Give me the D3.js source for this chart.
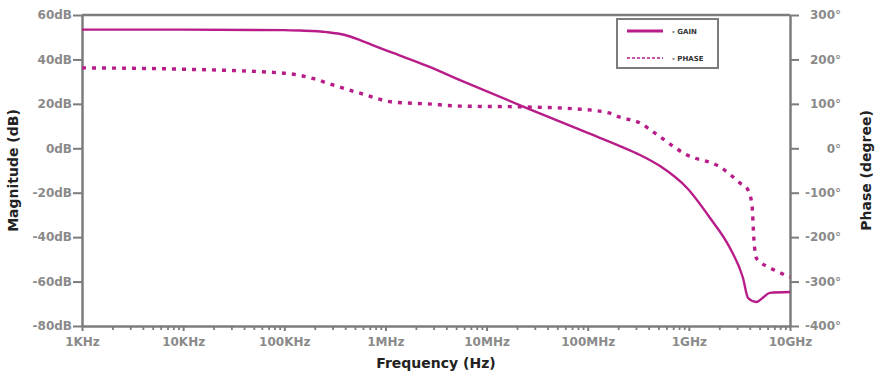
<!DOCTYPE html>
<html>
<head>
<meta charset="utf-8">
<script src="https://cdn.jsdelivr.net/npm/d3@7"></script>
<style>
  html, body { margin: 0; padding: 0; background: #fff; }
  svg { display: block; }
</style>
</head>
<body>
<svg id="chart" width="880" height="378"></svg>
<script>
// Data
const gainFreq = [1e3, 1e4, 1e5, 1.42e5, 2.64e5, 3.98e5, 5.6e5, 7.9e5, 1.19e6, 2.58e6, 5.46e6, 2.5e7, 1e8, 2.08e8, 3.29e8, 5.19e8, 9.6e8, 1.62e9, 2.55e9, 3.43e9, 3.85e9, 4.65e9, 5.35e9, 6.3e9, 1e10]
const gainDb = [53.4, 53.4, 53.2, 53.0, 52.3, 51.0, 48.7, 46.0, 42.9, 37.1, 30.7, 18.1, 6.9, 1.0, -3.0, -8.0, -17.9, -31.4, -44.9, -58.4, -67.4, -69.2, -67.4, -65.1, -64.7]
const phaseFreq = [1e3, 1e4, 1e5, 2e5, 2.64e5, 5.6e5, 1.19e6, 2.58e6, 5.46e6, 2.5e7, 8.4e7, 1.66e8, 2.08e8, 3.29e8, 4.43e8, 9.6e8, 2.03e9, 3.2e9, 3.85e9, 4.21e9, 4.4e9, 4.65e9, 5.2e9, 6.34e9, 1e10]
const phaseDeg = [181, 178, 169, 156, 147, 124, 104, 100, 95, 93, 88, 79, 70, 57, 37, -15, -42, -78, -94, -128, -206, -247, -258, -269, -290]
const freqTicks = [1e3, 1e4, 1e5, 1e6, 1e7, 1e8, 1e9, 1e10]
const freqLabels = ["1KHz", "10KHz", "100KHz", "1MHz", "10MHz", "100MHz", "1GHz", "10GHz"]
const dbTicks = [60, 40, 20, 0, -20, -40, -60, -80]
const degTicks = [300, 200, 100, 0, -100, -200, -300, -400]
const legendNames = ["- GAIN", "- PHASE"]

// Layout
const margin = { top: 15, right: 90, bottom: 52, left: 82 }
const width = 880, height = 378
const color = "#b81c88"
const axisColor = "#7c7c7c"
const font = "'DejaVu Sans', Verdana, sans-serif"

const svg = d3.select("#chart")

const x = d3.scaleLog().domain([1e3, 1e10]).range([margin.left, width - margin.right])
const yL = d3.scaleLinear().domain([-80, 60]).range([height - margin.bottom, margin.top])
const yR = d3.scaleLinear().domain([-400, 300]).range([height - margin.bottom, margin.top])

// Minor ticks on frequency axis
const minor = []
freqTicks.slice(0, -1).forEach(d => { for (let k = 2; k < 10; k++) minor.push(d * k) })

function styleAxis(g) {
  g.select(".domain").attr("stroke", axisColor).attr("stroke-width", 2.5)
  g.selectAll(".tick line").attr("stroke", axisColor).attr("stroke-width", 2)
  g.selectAll(".tick text")
    .attr("fill", "#8a8a8a")
    .attr("font-family", font)
    .attr("font-weight", "bold")
    .attr("font-size", "12px")
}

// Top frame line
svg.append("line")
  .attr("x1", margin.left).attr("x2", width - margin.right)
  .attr("y1", margin.top).attr("y2", margin.top)
  .attr("stroke", axisColor).attr("stroke-width", 2.5)

// Bottom axis (minor, then major)
svg.append("g")
  .attr("transform", `translate(0,${height - margin.bottom})`)
  .call(d3.axisBottom(x).tickValues(minor).tickSize(4).tickFormat(""))
  .call(g => g.select(".domain").remove())
  .call(g => g.selectAll(".tick line").attr("stroke", axisColor).attr("stroke-width", 1.8))

svg.append("g")
  .attr("transform", `translate(0,${height - margin.bottom})`)
  .call(d3.axisBottom(x).tickValues(freqTicks).tickSize(5).tickSizeOuter(0).tickPadding(6)
    .tickFormat((d, i) => freqLabels[i]))
  .call(styleAxis)

// Left axis
svg.append("g")
  .attr("transform", `translate(${margin.left},0)`)
  .call(d3.axisLeft(yL).tickValues(dbTicks).tickSize(9).tickSizeOuter(0).tickPadding(1)
    .tickFormat(d => `${d}dB`))
  .call(styleAxis)

// Right axis
svg.append("g")
  .attr("transform", `translate(${width - margin.right},0)`)
  .call(d3.axisRight(yR).tickValues(degTicks).tickSize(9).tickSizeOuter(0)
    .tickFormat(d => `${d}°`))
  .call(styleAxis)
  .call(g => g.selectAll(".tick text").attr("text-anchor", "end").attr("x", 51))

// Axis titles
const title = (sel) => sel
  .attr("font-family", font)
  .attr("font-weight", "bold")
  .attr("font-size", "14px")
  .attr("fill", "#222")
  .attr("text-anchor", "middle")

svg.append("text").call(title)
  .attr("x", (margin.left + width - margin.right) / 2)
  .attr("y", 368)
  .text("Frequency (Hz)")

svg.append("text").call(title)
  .attr("transform", `translate(18,${(margin.top + height - margin.bottom) / 2}) rotate(-90)`)
  .text("Magnitude (dB)")

svg.append("text").call(title)
  .attr("transform", `translate(871,${(margin.top + height - margin.bottom) / 2}) rotate(-90)`)
  .text("Phase (degree)")

// Curves
const gainLine = d3.line()
  .x((d, i) => x(gainFreq[i]))
  .y(d => yL(d))
  .curve(d3.curveMonotoneX)

const phaseLine = d3.line()
  .x((d, i) => x(phaseFreq[i]))
  .y(d => yR(d))
  .curve(d3.curveMonotoneX)

svg.append("path")
  .attr("d", phaseLine(phaseDeg))
  .attr("fill", "none")
  .attr("stroke", color)
  .attr("stroke-width", 3.4)
  .attr("stroke-dasharray", "4,6")

svg.append("path")
  .attr("d", gainLine(gainDb))
  .attr("fill", "none")
  .attr("stroke", color)
  .attr("stroke-width", 2.4)
  .attr("stroke-linejoin", "round")

// Legend
const legend = svg.append("g").attr("transform", "translate(617,19)")
legend.append("rect")
  .attr("width", 101).attr("height", 49)
  .attr("fill", "#fff")
  .attr("stroke", axisColor).attr("stroke-width", 2)
legend.selectAll("g")
  .data(legendNames)
  .join("g")
  .attr("transform", (_, i) => `translate(0,${12 + i * 27})`)
  .each(function (d, i) {
    const g = d3.select(this)
    g.append("line")
      .attr("x1", 10).attr("x2", 46)
      .attr("stroke", color)
      .attr("stroke-width", i ? 1.6 : 3)
      .attr("stroke-dasharray", i ? "3,2" : null)
    g.append("text")
      .attr("x", 55).attr("y", 3)
      .attr("font-family", font)
      .attr("font-weight", "bold")
      .attr("font-size", "7px")
      .attr("fill", "#333")
      .text(d)
  })
</script>
</body>
</html>
